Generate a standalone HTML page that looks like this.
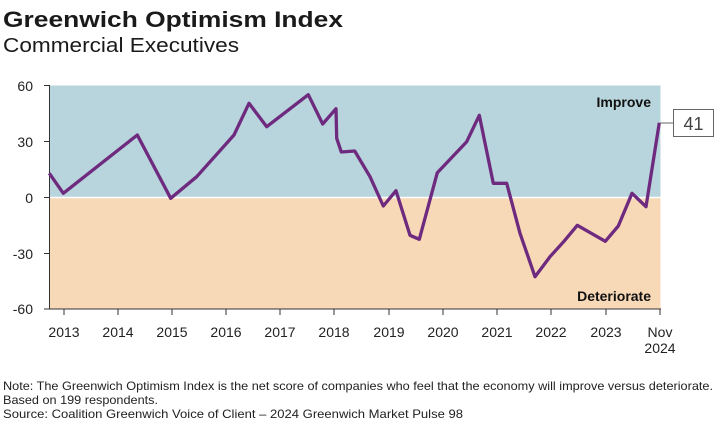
<!DOCTYPE html><html><head><style>
body{margin:0;width:720px;height:429px;background:#fff;font-family:"Liberation Sans",sans-serif;overflow:hidden}
</style></head><body>
<svg width="720" height="429" style="position:absolute;left:0;top:0" font-family="Liberation Sans, sans-serif">
<text x="3" y="27" font-size="22" font-weight="bold" fill="#1a1a1a" textLength="340" lengthAdjust="spacingAndGlyphs">Greenwich Optimism Index</text>
<text x="3" y="52" font-size="20" fill="#1a1a1a" textLength="236" lengthAdjust="spacingAndGlyphs">Commercial Executives</text>
<rect x="49.5" y="85.5" width="611" height="112" fill="#b8d4dc"/>
<rect x="49.5" y="197.5" width="611" height="111.5" fill="#f7d9b8"/>
<line x1="49.5" y1="197.5" x2="660.5" y2="197.5" stroke="#fff" stroke-width="1.5"/>
<g stroke="#333" stroke-width="1">
<line x1="49.5" y1="85" x2="49.5" y2="309"/>
<line x1="49" y1="309" x2="661" y2="309"/>
<line x1="44" y1="85.5" x2="49.5" y2="85.5"/><line x1="44" y1="141.5" x2="49.5" y2="141.5"/><line x1="44" y1="197.5" x2="49.5" y2="197.5"/><line x1="44" y1="253.5" x2="49.5" y2="253.5"/><line x1="44" y1="309" x2="49.5" y2="309"/>
<line x1="64" y1="309" x2="64" y2="315"/><line x1="118" y1="309" x2="118" y2="315"/><line x1="172" y1="309" x2="172" y2="315"/><line x1="226" y1="309" x2="226" y2="315"/><line x1="280" y1="309" x2="280" y2="315"/><line x1="334" y1="309" x2="334" y2="315"/><line x1="389" y1="309" x2="389" y2="315"/><line x1="443" y1="309" x2="443" y2="315"/><line x1="497" y1="309" x2="497" y2="315"/><line x1="551" y1="309" x2="551" y2="315"/><line x1="606" y1="309" x2="606" y2="315"/><line x1="660" y1="309" x2="660" y2="315"/>
</g>
<g font-size="14" fill="#222" text-anchor="end">
<text x="33" y="91">60</text><text x="33" y="147">30</text><text x="33" y="203">0</text><text x="33" y="259">-30</text><text x="33" y="314">-60</text>
</g>
<g font-size="14" fill="#222" text-anchor="middle">
<text x="64" y="337">2013</text><text x="118" y="337">2014</text><text x="172" y="337">2015</text><text x="226" y="337">2016</text><text x="280" y="337">2017</text><text x="334" y="337">2018</text><text x="389" y="337">2019</text><text x="443" y="337">2020</text><text x="497" y="337">2021</text><text x="551" y="337">2022</text><text x="606" y="337">2023</text><text x="660" y="337">Nov</text><text x="660" y="353">2024</text>
</g>
<text x="651" y="107" font-size="14" font-weight="bold" text-anchor="end" fill="#111">Improve</text>
<text x="651" y="301" font-size="14" font-weight="bold" text-anchor="end" fill="#111">Deteriorate</text>
<polyline fill="none" stroke="#6e2a7e" stroke-width="3.3" stroke-linejoin="round" points="49.3,173.3 63.3,193.3 137.3,135 170.7,198.3 196.7,176.7 234,135 249,103.3 266.7,126.7 308.3,94.7 322.7,124 336,108.7 336.7,138.3 341.3,152 354.7,151 370,176.7 383.3,206 396,190.7 410,235.3 419.3,239.3 437.3,172.7 466.7,141.7 479.3,115.3 493.3,183.3 506.7,183.3 520,233.3 535,276.7 550,256.7 564,241.3 577.3,225.3 605.3,241.3 618.3,226 632,193.3 646,206.7 659.3,122.7"/>
<line x1="660" y1="123" x2="673" y2="123" stroke="#666" stroke-width="1"/>
<rect x="673.5" y="109.5" width="40" height="27" fill="#fff" stroke="#666" stroke-width="1"/>
<text x="693.5" y="130" font-size="18" text-anchor="middle" fill="#444">41</text>
<g font-size="12" fill="#222">
<text x="3" y="390" textLength="710" lengthAdjust="spacingAndGlyphs">Note: The Greenwich Optimism Index is the net score of companies who feel that the economy will improve versus deteriorate.</text>
<text x="3" y="404" textLength="155" lengthAdjust="spacingAndGlyphs">Based on 199 respondents.</text>
<text x="3" y="418" textLength="460" lengthAdjust="spacingAndGlyphs">Source: Coalition Greenwich Voice of Client – 2024 Greenwich Market Pulse 98</text>
</g>
</svg>
</body></html>
